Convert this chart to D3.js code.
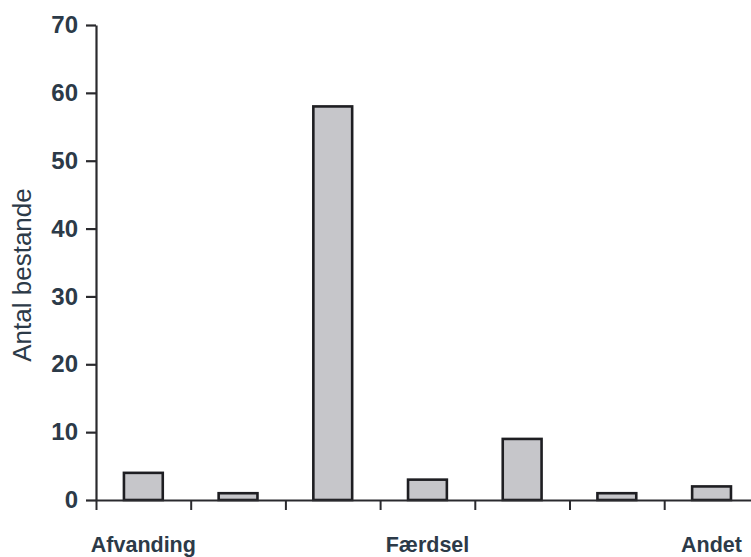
<!DOCTYPE html>
<html><head><meta charset="utf-8">
<script src="https://cdn.jsdelivr.net/npm/d3@7"></script>
<style>
html,body{margin:0;padding:0;background:#fff;}
svg{display:block;}
</style></head>
<body>
<svg id="chart" width="751" height="557"></svg>
<script>
const categoryIndex = [0, 1, 2, 3, 4, 5, 6];
const categoryLabels = ["Afvanding", "", "", "Færdsel", "", "", "Andet"];
const values = [4, 1, 58, 3, 9, 1, 2];
const yTicks = [0, 10, 20, 30, 40, 50, 60, 70];
const yTitle = "Antal bestande";

const svg = d3.select("#chart");
const x0 = 96, step = 94.7, yBase = 500, yTop = 25;
const textColor = "#2c3a48";
const lineColor = "#2a2a2e";

const x = d3.scaleBand().domain(categoryIndex)
  .range([x0, x0 + step * categoryIndex.length])
  .paddingInner(0.59).paddingOuter(0.295);
const xb = d3.scaleLinear().domain([0, categoryIndex.length]).range([x0, x0 + step * categoryIndex.length]);
const y = d3.scaleLinear().domain([0, 70]).range([yBase, yTop]);

// bars
svg.append("g").selectAll("rect").data(values).join("rect")
  .attr("x", (d, i) => x(categoryIndex[i]))
  .attr("y", d => y(d))
  .attr("width", x.bandwidth())
  .attr("height", d => y(0) - y(d))
  .attr("fill", "#c6c6ca")
  .attr("stroke", "#1e1e22")
  .attr("stroke-width", 2.6);

// x axis (ticks at band boundaries)
const gx = svg.append("g").attr("transform", `translate(0,${yBase})`)
  .call(d3.axisBottom(xb).tickValues(categoryIndex).tickFormat("").tickSize(10).tickSizeOuter(0));
gx.select(".domain").attr("stroke", lineColor).attr("stroke-width", 2.2);
gx.selectAll(".tick line").attr("stroke", lineColor).attr("stroke-width", 2);

// x labels
svg.append("g").selectAll("text").data(categoryLabels).join("text")
  .attr("x", (d, i) => x(categoryIndex[i]) + x.bandwidth() / 2)
  .attr("y", 552)
  .attr("text-anchor", "middle")
  .attr("font-family", "Liberation Sans, Arial, sans-serif")
  .attr("font-weight", "bold")
  .attr("font-size", 21.5)
  .attr("fill", textColor)
  .text(d => d);

// y axis
const gy = svg.append("g").attr("transform", `translate(${x0},0)`)
  .call(d3.axisLeft(y).tickValues(yTicks).tickSize(10).tickSizeOuter(0).tickPadding(8));
gy.select(".domain").attr("stroke", lineColor).attr("stroke-width", 2.2);
gy.selectAll(".tick line").attr("stroke", lineColor).attr("stroke-width", 2.2);
gy.selectAll(".tick text")
  .attr("font-family", "Liberation Sans, Arial, sans-serif")
  .attr("font-weight", "bold")
  .attr("font-size", 24)
  .attr("fill", textColor);

// y title
svg.append("text")
  .attr("transform", "translate(31,275) rotate(-90)")
  .attr("text-anchor", "middle")
  .attr("font-family", "Liberation Sans, Arial, sans-serif")
  .attr("font-size", 26)
  .attr("fill", textColor)
  .text(yTitle);
</script>
</body></html>
